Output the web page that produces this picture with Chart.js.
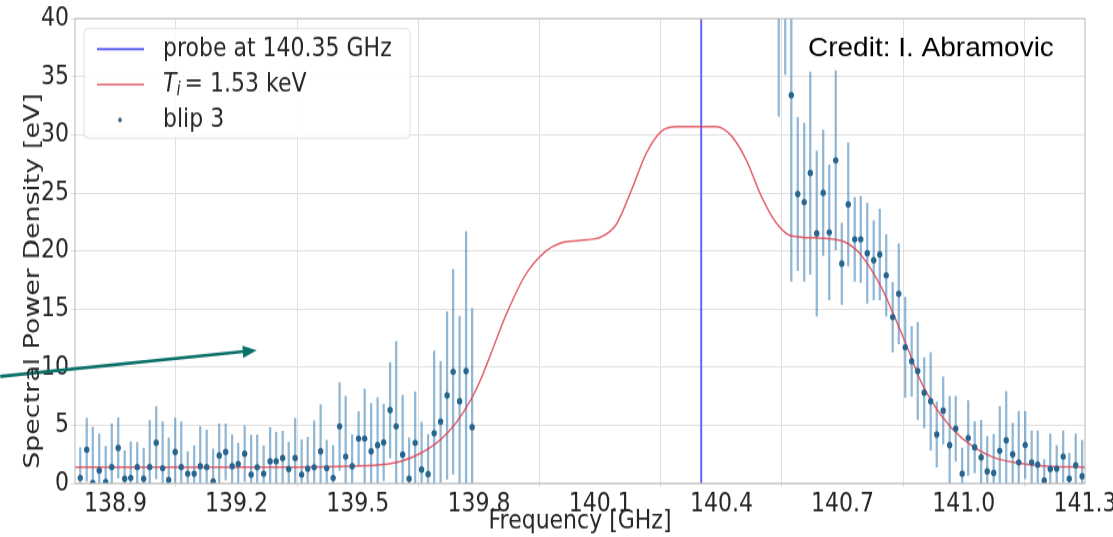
<!DOCTYPE html>
<html>
<head>
<meta charset="utf-8">
<script src="https://cdn.jsdelivr.net/npm/chart.js@4.4.1/dist/chart.umd.min.js"></script>
<style>
  html, body { margin: 0; padding: 0; background: #fff; overflow: hidden; }
  #wrap { width: 1113px; height: 537px; }
</style>
</head>
<body>
<!-- the source figure is stretched vertically, so the canvas is drawn shorter and scaled up -->
<div id="wrap"><canvas id="chart" width="1113" height="440" style="display:block;width:1113px;height:537px"></canvas></div>
<script>
// measured spectrum ("blip 3"), frequency in GHz, spectral power density in eV
const freq = [
  138.813, 138.829, 138.844, 138.860, 138.876, 138.891, 138.907, 138.923, 138.938, 138.954,
  138.970, 138.985, 139.001, 139.017, 139.032, 139.048, 139.063, 139.079, 139.095, 139.110,
  139.126, 139.142, 139.157, 139.173, 139.189, 139.204, 139.220, 139.236, 139.251, 139.267,
  139.283, 139.298, 139.314, 139.329, 139.345, 139.361, 139.376, 139.392, 139.408, 139.423,
  139.439, 139.455, 139.470, 139.486, 139.502, 139.517, 139.533, 139.549, 139.564, 139.580,
  139.595, 139.611, 139.627, 139.642, 139.658, 139.674, 139.689, 139.705, 139.721, 139.736,
  139.752, 139.768, 139.783,
  140.542, 140.558, 140.573, 140.589, 140.605, 140.620, 140.636, 140.652, 140.667, 140.683,
  140.698, 140.714, 140.730, 140.745, 140.761, 140.777, 140.792, 140.808, 140.824, 140.839,
  140.855, 140.871, 140.886, 140.902, 140.918, 140.933, 140.949, 140.965, 140.980, 140.996,
  141.011, 141.027, 141.043, 141.058, 141.074, 141.089, 141.105, 141.121, 141.136, 141.152,
  141.168, 141.183, 141.199, 141.214, 141.230, 141.246, 141.261, 141.277, 141.293
];
const spd = [
  0.46, 2.9, 0.03, 1.1, 0.1, 1.4, 3.05, 0.4, 0.46, 1.4,
  0.4, 1.4, 3.5, 1.3, 0.3, 2.7, 1.4, 0.83, 0.83, 1.47,
  1.4, 0.17, 2.4, 2.7, 1.47, 1.67, 2.56, 0.75, 1.38, 0.83,
  1.9, 1.9, 2.18, 1.24, 2.18, 0.75, 1.26, 1.38, 2.76, 1.3,
  0.46, 4.9, 2.3, 1.47, 3.85, 3.85, 2.76, 3.28, 3.53, 6.3,
  4.9, 2.47, 0.4, 3.48, 1.18, 0.8, 4.3, 5.3, 7.56, 9.6,
  7.07, 9.66, 4.83,
  44.0, 47.0, 33.4, 24.9, 24.2, 26.7, 21.5, 25.0, 21.6, 27.8,
  18.9, 24.0, 21.0, 21.0, 19.8, 19.2, 19.7, 17.9, 14.3, 16.3,
  11.7, 10.5, 9.66, 7.8, 7.07, 4.2, 6.26, 3.28, 4.7, 0.83,
  3.9, 3.1, 2.24, 1.03, 0.9, 2.8, 3.7, 2.5, 1.8, 3.3,
  1.8, 1.6, 0.23, 1.24, 1.26, 2.3, 0.4, 1.55, 0.6
];
const sigma = [
  2.6, 2.7, 4.8, 3.15, 3.1, 3.7, 2.6, 2.4, 3.1, 2.1,
  2.6, 4.0, 3.1, 4.0, 3.6, 2.9, 3.9, 1.9, 2.4, 3.4,
  3.2, 2.8, 2.7, 2.4, 2.7, 1.8, 2.4, 3.4, 2.8, 2.4,
  2.9, 2.5, 2.3, 2.3, 3.4, 3.0, 2.7, 4.0, 4.0, 2.4,
  2.8, 3.75, 5.2, 2.7, 2.3, 4.25, 4.1, 4.1, 3.3, 4.1,
  7.3, 5.1, 3.5, 4.4, 4.1, 3.4, 7.1, 5.2, 7.2, 8.8,
  7.3, 12.0, 10.2,
  12.4, 11.8, 16.0, 6.6, 6.8, 8.7, 7.1, 5.4, 5.8, 7.7,
  3.5, 5.3, 3.6, 3.7, 4.3, 3.4, 3.9, 3.5, 3.0, 4.3,
  4.3, 3.0, 4.2, 3.0, 4.2, 2.8, 2.9, 4.2, 2.8, 2.2,
  3.2, 2.2, 3.2, 3.0, 3.3, 3.8, 4.2, 2.7, 4.4, 2.9,
  2.7, 2.9, 1.8, 3.0, 2.0, 2.2, 2.2, 2.7, 3.1
];

// fitted spectrum for Ti = 1.53 keV
const modelFreq = [
  138.80, 139.30, 139.45, 139.557, 139.607, 139.656, 139.706, 139.743, 139.780, 139.805,
  139.830, 139.867, 139.916, 139.966, 140.003, 140.050, 140.102, 140.140, 140.177, 140.214,
  140.251, 140.290, 140.350, 140.387, 140.425, 140.462, 140.499, 140.536, 140.573, 140.648,
  140.710, 140.747, 140.797, 140.829, 140.858, 140.896, 140.945, 140.995, 141.069, 141.143,
  141.218, 141.300
];
const modelVal = [
  1.4, 1.4, 1.45, 1.6, 1.9, 2.6, 3.8, 5.2, 7.2, 9.0,
  11.2, 14.5, 18.0, 20.0, 20.7, 20.9, 21.2, 22.3, 25.2, 28.4,
  30.3, 30.7, 30.7, 30.7, 29.9, 27.8, 24.7, 22.4, 21.3, 21.1,
  20.7, 19.6, 16.8, 14.3, 11.9, 8.6, 5.8, 3.9, 2.3, 1.7,
  1.45, 1.4
];

const probeFreq = 140.35;
const xTicks = [138.9, 139.2, 139.5, 139.8, 140.1, 140.4, 140.7, 141.0, 141.3];
const yTicks = [0, 5, 10, 15, 20, 25, 30, 35, 40];

// annotation arrow, in data coordinates (start is left of the axes)
const arrowFrom = [138.615, 9.2];
const arrowTo = [139.25, 11.45];

const STRETCH = 537 / 440;
const FONT = 'DejaVu Sans';
const dotColor = '#28668f';
const barColor = 'rgba(70,135,185,0.6)';
const redColor = 'rgba(222,70,85,0.85)';
const blueColor = 'rgb(100,100,245)';

const errBars = freq.map((f, i) => ({ x: f, y: [spd[i] - sigma[i], spd[i] + sigma[i]] }));
const points = freq.map((f, i) => ({ x: f, y: spd[i] }));
const model = modelFreq.map((f, i) => ({ x: f, y: modelVal[i] }));

const extras = {
  id: 'extras',
  afterDatasetsDraw(chart) {
    const { ctx, chartArea: a, scales: { x, y } } = chart;
    ctx.save();
    ctx.strokeStyle = '#b8b8b8';
    ctx.lineWidth = 1;
    ctx.strokeRect(a.left, a.top, a.right - a.left, a.bottom - a.top);

    // teal arrow
    const x0 = x.getPixelForValue(arrowFrom[0]), y0 = y.getPixelForValue(arrowFrom[1]);
    const x1 = x.getPixelForValue(arrowTo[0]), y1 = y.getPixelForValue(arrowTo[1]);
    const ang = Math.atan2(y1 - y0, x1 - x0);
    ctx.strokeStyle = '#0b7068';
    ctx.fillStyle = '#0b7068';
    ctx.lineWidth = 2.6;
    ctx.beginPath();
    ctx.moveTo(x0, y0);
    ctx.lineTo(x1 - 10 * Math.cos(ang), y1 - 10 * Math.sin(ang));
    ctx.stroke();
    ctx.beginPath();
    ctx.moveTo(x1, y1);
    ctx.lineTo(x1 - 14 * Math.cos(ang) + 5 * Math.sin(ang), y1 - 14 * Math.sin(ang) - 5 * Math.cos(ang));
    ctx.lineTo(x1 - 14 * Math.cos(ang) - 5 * Math.sin(ang), y1 - 14 * Math.sin(ang) + 5 * Math.cos(ang));
    ctx.closePath();
    ctx.fill();
    ctx.restore();
  },
  afterDraw(chart) {
    const { ctx, chartArea: a } = chart;
    ctx.save();
    // y axis label, placed as in the source figure
    ctx.save();
    ctx.translate(33, 281 / STRETCH);
    ctx.rotate(-Math.PI / 2);
    ctx.fillStyle = '#262626';
    ctx.font = '22px ' + FONT;
    ctx.textAlign = 'center';
    ctx.textBaseline = 'middle';
    ctx.fillText('Spectral Power Density [eV]', 0, 0);
    ctx.restore();

    // legend box
    const lx = a.left + 9, ly = a.top + 8, lw = 326, lh = 90;
    ctx.fillStyle = 'rgba(255,255,255,0.85)';
    ctx.strokeStyle = '#e0e0e0';
    ctx.lineWidth = 1;
    ctx.beginPath();
    ctx.roundRect(lx, ly, lw, lh, 4);
    ctx.fill();
    ctx.stroke();

    const r1 = ly + 17, r2 = ly + 46, r3 = ly + 75;
    ctx.lineWidth = 2;
    ctx.strokeStyle = blueColor;
    ctx.beginPath(); ctx.moveTo(lx + 13, r1); ctx.lineTo(lx + 60, r1); ctx.stroke();
    ctx.strokeStyle = redColor;
    ctx.lineWidth = 1.6;
    ctx.beginPath(); ctx.moveTo(lx + 13, r2); ctx.lineTo(lx + 60, r2); ctx.stroke();
    ctx.fillStyle = '#55738a';
    ctx.beginPath(); ctx.arc(lx + 36, r3, 2, 0, Math.PI * 2); ctx.fill();

    ctx.fillStyle = '#262626';
    ctx.textBaseline = 'middle';
    ctx.font = '22px ' + FONT;
    const tx = lx + 79;
    ctx.fillText('probe at 140.35 GHz', tx, r1);
    ctx.font = 'italic 22px ' + FONT;
    ctx.fillText('T', tx, r2);
    let w = ctx.measureText('T').width;
    ctx.font = 'italic 15px ' + FONT;
    ctx.fillText('i', tx + w, r2 + 5);
    w += ctx.measureText('i').width + 4;
    ctx.font = '22px ' + FONT;
    ctx.fillText('= 1.53 keV', tx + w, r2);
    ctx.fillText('blip 3', tx, r3);

    // credit note, drawn without the vertical stretch
    ctx.scale(1, 1 / STRETCH);
    ctx.fillStyle = '#000';
    ctx.font = '28px "Liberation Sans"';
    ctx.fillText('Credit: I. Abramovic', 808, 48);
    ctx.restore();
  }
};

new Chart(document.getElementById('chart'), {
  type: 'bar',
  data: {
    datasets: [
      {
        type: 'bar',
        label: 'error',
        data: errBars,
        backgroundColor: barColor,
        borderWidth: 0,
        barThickness: 1.6,
        grouped: false,
        clip: 0,
        order: 4
      },
      {
        type: 'line',
        label: 'probe at 140.35 GHz',
        data: [{ x: probeFreq, y: 0 }, { x: probeFreq, y: 40 }],
        borderColor: blueColor,
        borderWidth: 2,
        pointRadius: 0,
        order: 3
      },
      {
        type: 'line',
        label: 'Ti = 1.53 keV',
        data: model,
        borderColor: redColor,
        borderWidth: 1.5,
        pointRadius: 0,
        cubicInterpolationMode: 'monotone',
        order: 2
      },
      {
        type: 'scatter',
        label: 'blip 3',
        data: points,
        backgroundColor: dotColor,
        borderWidth: 0,
        pointRadius: 2.7,
        order: 1
      }
    ]
  },
  options: {
    responsive: false,
    animation: false,
    devicePixelRatio: 1,
    layout: { padding: { left: 0, right: 28, top: 15, bottom: 0 } },
    plugins: {
      legend: { display: false },
      tooltip: { enabled: false }
    },
    scales: {
      x: {
        type: 'linear',
        min: 138.8,
        max: 141.3,
        offset: false,
        afterBuildTicks: (s) => { s.ticks = xTicks.map(v => ({ value: v })); },
        afterFit: (s) => { s.height = 44; s.paddingLeft = 0; s.paddingRight = 0; },
        ticks: {
          font: { family: FONT, size: 22 },
          color: '#262626',
          padding: 1,
          maxRotation: 0,
          callback: (v) => v.toFixed(1)
        },
        grid: { color: '#e0e0e0', lineWidth: 1, tickLength: 3 },
        border: { display: false },
        title: {
          display: true,
          text: 'Frequency [GHz]',
          font: { family: FONT, size: 22 },
          color: '#262626',
          padding: { top: 0, bottom: 0 }
        }
      },
      y: {
        min: 0,
        max: 40,
        afterBuildTicks: (s) => { s.ticks = yTicks.map(v => ({ value: v })); },
        afterFit: (s) => { s.width = 75; },
        ticks: {
          font: { family: FONT, size: 22 },
          color: '#262626',
          padding: 2
        },
        grid: { color: '#e0e0e0', lineWidth: 1, tickLength: 4 },
        border: { display: false },
        title: { display: false }
      }
    }
  },
  plugins: [extras]
});
</script>
</body>
</html>
